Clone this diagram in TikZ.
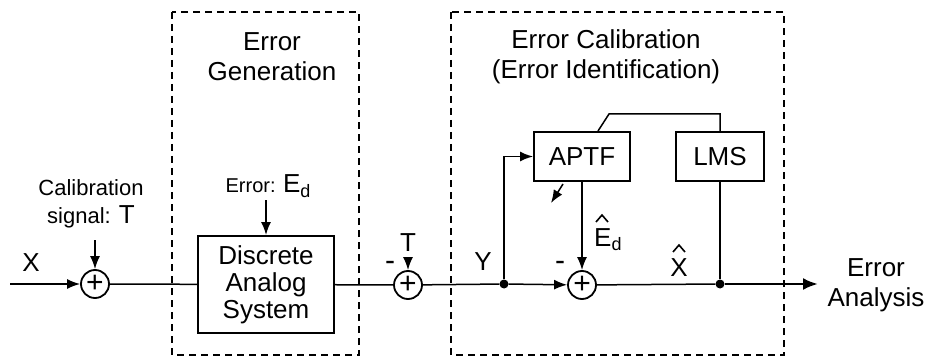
\documentclass[tikz,border=0pt]{standalone}
\usepackage{fontspec}
\setmainfont{Liberation Sans}
\usetikzlibrary{arrows.meta,positioning,calc}

\newcommand{\subd}{\raisebox{-0.35ex}{\fontsize{18}{18}\selectfont d}}

\begin{document}
\begin{tikzpicture}[x=1pt,y=-1pt,>={Latex[length=13pt,width=10pt]},font=\fontsize{26}{30}\selectfont]
  \tikzstyle{block}=[draw,line width=2pt,align=center,inner sep=0pt]
  \tikzstyle{sum}=[draw,circle,line width=1.8pt,minimum size=28pt,inner sep=0pt,font=\fontsize{30}{30}\selectfont]
  \tikzstyle{frame}=[draw,line width=1.8pt,dash pattern=on 7pt off 5pt]
  \tikzstyle{sig}=[line width=1.5pt]
  \tikzstyle{junction}=[circle,fill,minimum size=9pt,inner sep=0pt]
  \tikzstyle{small}=[font=\fontsize{22}{28}\selectfont]
  \tikzstyle{sign}=[font=\fontsize{30}{30}\selectfont]
  \tikzstyle{hatted}=[inner sep=0pt]
  \tikzstyle{hatline}=[line width=1.6pt]

  \useasboundingbox (0,0) rectangle (925,358);

  % Dashed frames and titles
  \draw[frame] (172,12) rectangle (359,355);
  \draw[frame] (451,12) rectangle (784,355);
  \node[align=center] (gentitle) at (272,57) {Error\\Generation};
  \node[align=center] (caltitle) at (606,57) {Error Calibration\\(Error Identification)};

  % Input side
  \coordinate (xin) at (10,284);
  \node (xlab) at (31,263) {X};
  \node[sum] (sumA) at (95,284) {+};
  \node[small,align=center] (calib) at (91,204) {Calibration\\signal: {\fontsize{26}{26}\selectfont T}};
  \coordinate (calibtop) at (95,240);

  % Error generation
  \node[block,minimum width=136pt,minimum height=97pt,font=\fontsize{26}{27}\selectfont] (sys) at (266,284.5) {Discrete\\Analog\\System};
  \node[small,font=\fontsize{20}{24}\selectfont] (errlab) at (268,186) {Error: {\fontsize{26}{26}\selectfont E\subd}};
  \coordinate (errtop) at (266,200);

  % Subtraction of T
  \node[sum] (sumB) at (408,285) {+};
  \node (tlab) at (408,243) {T};
  \coordinate (ttop) at (408,257);
  \node[sign] (minusB) at (390,266) {-};

  % Error calibration
  \node[junction] (ydot) at (504,284) {};
  \node (ylab) at (483,262) {Y};
  \node[block,minimum width=96pt,minimum height=49pt] (aptf) at (582,156.5) {APTF};
  \node[block,minimum width=88pt,minimum height=49pt] (lms) at (720,156.5) {LMS};
  \node[sum] (sumC) at (582,285) {+};
  \node[sign] (minusC) at (560,266) {-};
  \node[hatted,anchor=north west] (ehat) at (594,228) {E\subd};
  \node[junction] (xdot) at (720,284) {};
  \node[hatted,anchor=north] (xhat) at (679,258) {X};
  \coordinate (knee) at (609,114);

  % Hats over the estimates
  \draw[hatline] ($(ehat.north west)+(2,-6)$) -- ++(6,-7) -- ++(6,7);
  \draw[hatline] ($(xhat.north)+(-6,-6)$) -- ++(6,-7) -- ++(6,7);

  % Output
  \coordinate (out) at (818,284);
  \node[align=center] (outlab) at (876,285) {Error\\Analysis};

  % Signal path
  \draw[sig,->] (xin) -- (sumA);
  \draw[sig,->] (calibtop) -- (sumA);
  \draw[sig] (sumA) -- (sys);
  \draw[sig,->] (errtop) -- (sys);
  \draw[sig] (sys) -- (sumB);
  \draw[sig,->] (ttop) -- (sumB);
  \draw[sig] (sumB) -- (ydot);
  \draw[sig,->] (ydot) -- (sumC);
  \draw[sig,->] (ydot) |- (aptf.west);
  \draw[sig,->] (aptf) -- (sumC);
  \draw[sig] (sumC) -- (xdot);
  \draw[sig] (lms) -- (xdot);
  \draw[sig] (lms.north) |- (knee) -- ($(aptf.north)+(16,0)$);
  \draw[sig,->] ($(aptf.south west)+(30,2)$) -- ++(-12,19);
  \draw[line width=2.6pt,-{Latex[length=15pt,width=12pt]}] (xdot) -- (out);
\end{tikzpicture}
\end{document}
